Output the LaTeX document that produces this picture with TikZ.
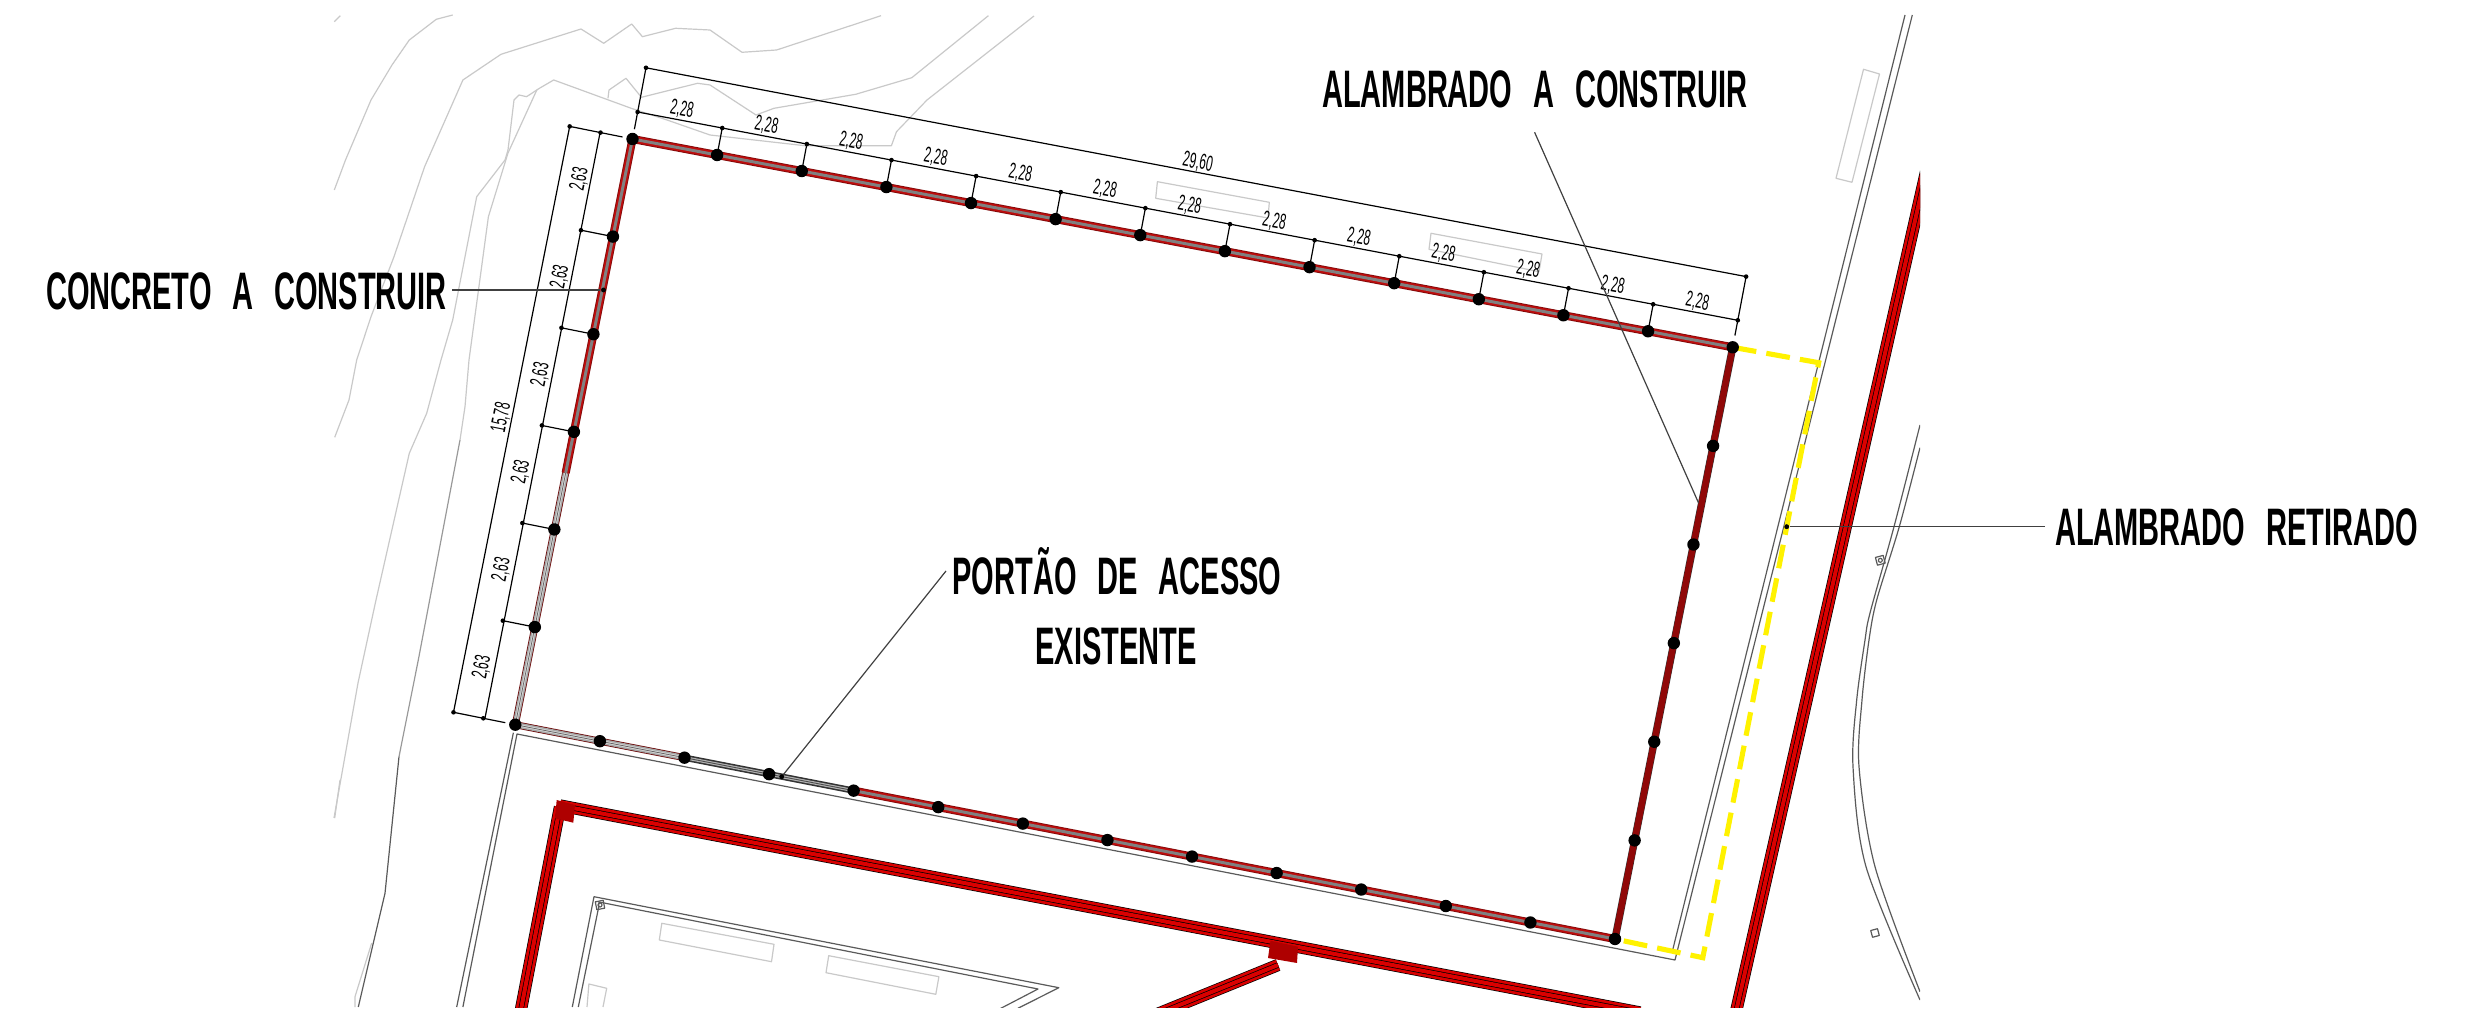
\documentclass[tikz,border=0pt]{standalone}
\usepackage{fontspec}
\usetikzlibrary{calc}
\newfontfamily\biglabfont[FakeStretch=0.55,WordSpace=2.6]{Liberation Sans Bold}
\newfontfamily\dimlabfont[FakeStretch=0.55]{Liberation Sans}
\definecolor{wallred}{HTML}{BE0C0C}
\definecolor{walldark}{HTML}{7E0A0A}
\definecolor{rightwall}{HTML}{900808}
\definecolor{bigred}{HTML}{DA0000}
\definecolor{contour}{HTML}{C9C9C9}
\definecolor{midline}{HTML}{999999}
\definecolor{roadline}{HTML}{5A5A5A}
\definecolor{dashyel}{HTML}{FFF200}
\tikzset{
  biglab/.style={inner sep=0pt,font=\biglabfont\fontsize{15}{15}\selectfont,text height=10.8pt,text depth=0pt},
  dimtxt/.style={inner sep=0pt,font=\dimlabfont\fontsize{6.2}{6.2}\selectfont,text=black},
  dimline/.style={draw=black,line width=0.34pt},
  contourline/.style={draw=contour,line width=0.34pt,line join=round},
  midcontour/.style={draw=midline,line width=0.34pt,line join=round},
  darkline/.style={draw=roadline,line width=0.34pt,line join=round},
  leaderline/.style={draw=black!75,line width=0.34pt},
  retired/.style={draw=dashyel,line width=1.45pt,dash pattern=on 6.8pt off 2.9pt,line join=miter},
}
\newcommand{\bigwall}[1]{%
  \draw[black,line width=3.5pt] #1;
  \draw[bigred,line width=3.1pt] #1;
  \draw[black,line width=1.55pt] #1;
  \draw[bigred,line width=1.15pt] #1;
}
\newcommand{\redgray}[1]{%
  \draw[walldark,line width=2.3pt] #1;
  \draw[wallred,line width=1.85pt] #1;
  \draw[black!50,line width=0.85pt] #1;
}
\newcommand{\palewall}[1]{%
  \draw[walldark!85!black,line width=2.0pt] #1;
  \draw[black!35,line width=1.55pt] #1;
  \draw[black!15,line width=0.7pt] #1;
  \draw[black!60,line width=0.22pt] #1;
}
\newcommand{\greywall}[1]{%
  \draw[black!80,line width=1.8pt] #1;
  \draw[gray!60,line width=0.9pt] #1;
  \draw[black!70,line width=0.25pt] #1;
}
\begin{document}
\begin{tikzpicture}[x=0.01cm,y=-0.01cm]
\useasboundingbox (0,0) rectangle (2472,1019);
\fill[white] (0,0) rectangle (2472,1019);

\coordinate (A) at (632.5,139);
\coordinate (B) at (1732.7,347.3);
\coordinate (C) at (515.3,724.7);
\coordinate (D) at (1615,939);
\coordinate (E) at (1818.7,362.7);
\coordinate (F) at (1702.8,957.7);

\begin{scope}
\clip (333,15) rectangle (1920,1007);
% terrain contours
\draw[contourline] (334.3,190) -- (345.5,160) -- (371,100) -- (392,65) -- (409.3,40) -- (436.3,19.3) -- (452.7,15);
\draw[contourline] (334.3,21.7) -- (340.4,15.7);
\draw[contourline] (334.7,437.3) -- (349,400) -- (356.7,360) -- (371,316.7) -- (394,256.7) -- (424.6,166.7) -- (462.9,80) -- (501,54.3) -- (581,29) -- (603.7,43.3) -- (631.7,24) -- (642.4,36.7) -- (675.6,28.3) -- (710,30) -- (742,52.3) -- (776.6,50) -- (881,15.7);
\draw[contourline] (334,818) -- (358,683) -- (376,600) -- (409.3,453.3) -- (426.7,413.3) -- (441,360) -- (452.7,320) -- (476.7,196.7) -- (505,160) -- (508,150) -- (514,100) -- (519,95) -- (526.6,96.7) -- (539.4,88.3) -- (553.7,80) -- (631.2,108.3) -- (667,120) -- (710,135) -- (804.7,145.7) -- (891.4,145.7) -- (896.5,131.7) -- (927,100) -- (1034,16);
\draw[contourline] (460,440) -- (465,406.7) -- (469,360) -- (488.4,216.7) -- (508,153) -- (536.8,90);
\draw[contourline] (608,98.3) -- (609,90) -- (626,78.3) -- (641.4,97.3) -- (697.6,83.3) -- (710,85) -- (756,115) -- (774,108.3) -- (855.7,94.3) -- (911.8,77.7) -- (988.4,15.7);
\draw[contourline] (371.7,943) -- (355,996.7) -- (355,1007);
\draw[contourline] (340,780) -- (334.7,818);
\draw[midcontour] (460,440) -- (418.3,660) -- (399,756.7);
\draw[darkline] (399,756.7) -- (385,893.3) -- (358.3,1007);
% pavement edges
\draw[darkline] (513.4,732.7) -- (456.7,1007);
\draw[darkline] (1905,15) -- (1672,952.7);
\draw[darkline] (1912.3,15) -- (1675,960) -- (517,734) -- (462.9,1007);
% curved road
\draw[darkline] plot[smooth] coordinates {(1920,425) (1894,526.7) (1870,613) (1865,640) (1856.7,700) (1853,766.7) (1866,866.7) (1920,1000)};
\draw[darkline] plot[smooth] coordinates {(1920,447.7) (1899.3,526.7) (1876.7,600) (1869,640) (1862,700) (1859,766.7) (1875,866.7) (1920,991.7)};
\draw[darkline,rotate around={15:(1880.3,560.3)}] (1876.3,556.3) rectangle (1884.3,564.3);
\draw[darkline] (1880.3,560.3) circle[radius=2];
\draw[darkline,rotate around={15:(1875,933)}] (1871.5,929.5) rectangle (1878.5,936.5);
% grey rectangles
\draw[contourline] (1157.4,181.7) -- (1269.3,202.3) -- (1268,218) -- (1155.7,198.3) -- cycle;
\draw[contourline] (1431,233.3) -- (1542,254) -- (1539,271.7) -- (1429,249.3) -- cycle;
\draw[contourline] (1863.5,69.3) -- (1879.5,74) -- (1852,182.3) -- (1836,178.3) -- cycle;
\draw[contourline] (661.8,923.3) -- (774,944.3) -- (771.5,961.7) -- (659.3,940) -- cycle;
\draw[contourline] (828.7,955.7) -- (938.9,976.7) -- (935.8,994.3) -- (826,972.7) -- cycle;
\draw[contourline] (603,1007) -- (606.7,988.3) -- (588.9,984) -- (587,1007);
% inner building
\draw[darkline] (572.3,1007) -- (594,896.7) -- (1058.8,987.7) -- (1004.7,1015);
\draw[darkline] (578.3,1007) -- (598.5,908) -- (599,902) -- (1038,989) -- (988,1015);
\draw[darkline,rotate around={11:(600,905)}] (596,901) rectangle (604,909);
\draw[darkline] (600,905) circle[radius=2];
% thick red walls
\bigwall{(1733,1025) -- (1926,172)}
\bigwall{(560,807) -- (518,1025)}
\bigwall{(560,805.5) -- (1640,1012.5)}
\bigwall{(1278,965) -- (1150,1017)}
\fill[bigred!80!black] (556.7,800) -- (575,805) -- (573.3,822.7) -- (555,818.3) -- cycle;
\fill[bigred!80!black] (1270.5,940.7) -- (1298,946.7) -- (1297,963) -- (1268,958) -- cycle;
\end{scope}

% fence
\palewall{($(A)!0.57!(C)$) -- (C)}
\redgray{(A) -- ($(A)!0.57!(C)$)}
\palewall{(C) -- ($(C)!2/13!(D)$)}
\greywall{($(C)!2/13!(D)$) -- ($(C)!4/13!(D)$)}
\redgray{($(C)!4/13!(D)$) -- (D)}
\redgray{(A) -- (B)}
\draw[black!80,line width=2.1pt] (B) -- (D);
\draw[rightwall,line width=1.8pt] (B) -- (D);
% removed fence
\draw[retired] (B) -- (E) -- (F) -- (D);

% posts
\foreach \i in {0,...,13} {
  \fill[black] ($(A)!\i/13!(B)$) circle[radius=6.2];
  \fill[black] ($(C)!\i/13!(D)$) circle[radius=6.2];
}
\foreach \i in {1,...,5} {
  \fill[black] ($(A)!\i/6!(C)$) circle[radius=6.2];
  \fill[black] ($(B)!\i/6!(D)$) circle[radius=6.2];
}

% top dimensions
\draw[dimline] ($(A)+(1.9,-9.8)$) -- ($(A)+(13.5,-71.2)$);
\draw[dimline] ($(B)+(2.2,-11.8)$) -- ($(B)+(13.4,-70.7)$);
\draw[dimline] ($(A)+(5.1,-27)$) -- ($(B)+(5.1,-27)$);
\draw[dimline] ($(A)+(13.5,-71.2)$) -- ($(B)+(13.4,-70.7)$);
\foreach \i in {0,...,13} {
  \coordinate (t) at ($(A)!\i/13!(B)+(5.1,-27)$);
  \fill[black] (t) circle[radius=2.3];
  \ifnum\i>0 \ifnum\i<13
    \draw[dimline] ($(A)!\i/13!(B)$) -- (t);
  \fi\fi
}
\fill[black] ($(A)+(13.5,-71.2)$) circle[radius=2.3];
\fill[black] ($(B)+(13.4,-70.7)$) circle[radius=2.3];
\foreach \i in {0,...,12} {
  \node[dimtxt,rotate=-10.72] (td\i) at ($(A)!{(\i+.5)/13}!(B)+(7.07,-37.3)$) {2,28};
}
\node[dimtxt,rotate=-10.72] (tot) at (1197.8,162.5) {29,60};

% left dimensions
\draw[dimline] ($(A)+(-10,-2)$) -- ($(A)+(-62.8,-12.6)$);
\draw[dimline] ($(C)+(-10,-2)$) -- ($(C)+(-61.8,-12.4)$);
\draw[dimline] ($(A)+(-32.4,-6.5)$) -- ($(C)+(-30.4,-6.1)$);
\draw[dimline] ($(A)+(-62.8,-12.6)$) -- ($(C)+(-61.8,-12.4)$);
\foreach \i in {0,...,6} {
  \coordinate (t) at ($(A)!\i/6!(C)+(-32,-6.4)$);
  \fill[black] (t) circle[radius=2.3];
  \ifnum\i>0 \ifnum\i<6
    \draw[dimline] ($(A)!\i/6!(C)$) -- (t);
  \fi\fi
}
\fill[black] ($(A)+(-62.8,-12.6)$) circle[radius=2.3];
\fill[black] ($(C)+(-61.8,-12.4)$) circle[radius=2.3];
\foreach \i in {0,...,5} {
  \node[dimtxt,rotate=78.7] (ld\i) at ($(A)!{(\i+.5)/6}!(C)+(-43.1,-8.6)$) {2,63};
}
\node[dimtxt,rotate=78.7] (ltot) at (501.4,417.5) {15,78};

% labels
\node[biglab] (conc) at (246.5,291) {CONCRETO A CONSTRUIR};
\node[biglab] (alc) at (1535,88.3) {ALAMBRADO A CONSTRUIR};
\node[biglab] (ret) at (2236.5,527) {ALAMBRADO RETIRADO};
\node[biglab] (por) at (1117,576) {PORTÃO DE ACESSO};
\node[biglab] (exi) at (1116,645.5) {EXISTENTE};

% leaders
\coordinate (concfoot) at (452,290);
\coordinate (alcfoot) at (1534.6,132.3);
\coordinate (retfoot) at (2045,526.7);
\coordinate (porfoot) at (946,571);
\node[circle,fill=black,inner sep=0pt,minimum size=1.4pt] (concdot) at (603.5,290) {};
\node[circle,inner sep=0pt,minimum size=0.2pt] (alcdot) at (1699,504) {};
\node[circle,fill=black,inner sep=0pt,minimum size=1.4pt] (retdot) at (1786.7,526.7) {};
\node[circle,fill=black,inner sep=0pt,minimum size=1.4pt] (pordot) at (781.7,776.7) {};
\draw[leaderline] (concfoot) -- (concdot);
\draw[leaderline] (alcfoot) -- (alcdot);
\draw[leaderline] (retfoot) -- (retdot);
\draw[leaderline] (porfoot) -- (pordot);
\end{tikzpicture}
\end{document}
